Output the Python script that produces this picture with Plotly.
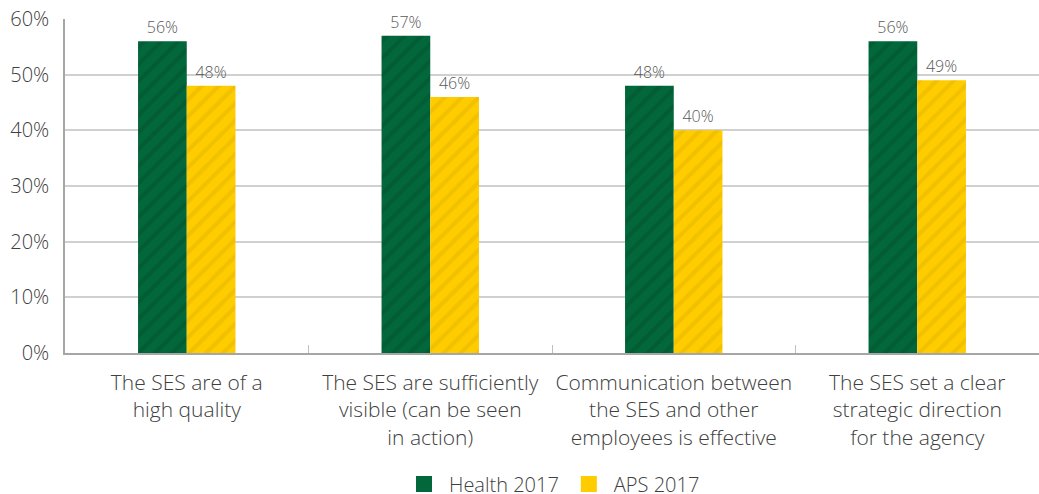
import plotly.graph_objects as go

categories = [
    "The SES are of a<br>high quality",
    "The SES are sufficiently<br>visible (can be seen<br>in action)",
    "Communication between<br>the SES and other<br>employees is effective",
    "The SES set a clear<br>strategic direction<br>for the agency",
]
health_2017 = [56, 57, 48, 56]
aps_2017 = [48, 46, 40, 49]
y_ticks = [0, 10, 20, 30, 40, 50, 60]
y_tick_labels = ["0%", "10%", "20%", "30%", "40%", "50%", "60%"]

FONT = "'Open Sans', sans-serif"
GREEN = "#02673A"
GREEN_DARK = "#01532E"
YELLOW = "#FFCC00"
YELLOW_DARK = "#E3B500"

fig = go.Figure()
fig.add_trace(go.Bar(
    name="Health 2017", x=categories, y=health_2017, showlegend=False,
    marker=dict(color=GREEN, line=dict(width=0),
                pattern=dict(shape="/", fgcolor=GREEN_DARK, size=12, solidity=0.35)),
    text=[f"{v}%" for v in health_2017], textposition="outside",
    textfont=dict(size=16, color="#595959", family=FONT, weight=300),
    cliponaxis=False,
))
fig.add_trace(go.Bar(
    name="APS 2017", x=categories, y=aps_2017, showlegend=False,
    marker=dict(color=YELLOW, line=dict(width=0),
                pattern=dict(shape="/", fgcolor=YELLOW_DARK, size=12, solidity=0.35)),
    text=[f"{v}%" for v in aps_2017], textposition="outside",
    textfont=dict(size=16, color="#595959", family=FONT, weight=300),
    cliponaxis=False,
))
# legend entries with larger square swatches
for name, col in [("Health 2017", GREEN), ("APS 2017", YELLOW)]:
    fig.add_trace(go.Scatter(
        name=name, x=[None], y=[None], mode="markers",
        marker=dict(symbol="square", size=20, color=col), showlegend=True,
    ))

fig.update_layout(
    width=1039, height=494,
    margin=dict(l=65, r=0, t=19, b=141, autoexpand=False),
    paper_bgcolor="white", plot_bgcolor="white",
    barmode="group", bargap=0.6, bargroupgap=0,
    font=dict(family=FONT, color="#404040", weight=300),
    showlegend=True,
    legend=dict(orientation="h", x=0.5, xanchor="center", yref="container",
                y=0.02, yanchor="middle",
                font=dict(size=20, color="#404040", family=FONT, weight=300),
                itemwidth=40, traceorder="normal", itemsizing="trace"),
    xaxis=dict(
        showgrid=False, showline=True, linecolor="#A6A6A6", linewidth=1.5,
        ticks="inside", ticklen=8, tickcolor="#BFBFBF", tickson="boundaries",
        tickfont=dict(size=21, color="#404040", family=FONT, weight=300),
        tickangle=0, ticklabelstandoff=10,
        fixedrange=True,
    ),
    yaxis=dict(
        range=[0, 60], tickvals=y_ticks, ticktext=y_tick_labels,
        showgrid=True, gridcolor="#D0D0D0", gridwidth=1.5,
        showline=True, linecolor="#A6A6A6", linewidth=1.5,
        zeroline=False, ticks="", ticklabelstandoff=10,
        tickfont=dict(size=20, color="#404040", family=FONT, weight=300),
        fixedrange=True,
    ),
)

fig.write_html("out.html", config={"displayModeBar": False})
